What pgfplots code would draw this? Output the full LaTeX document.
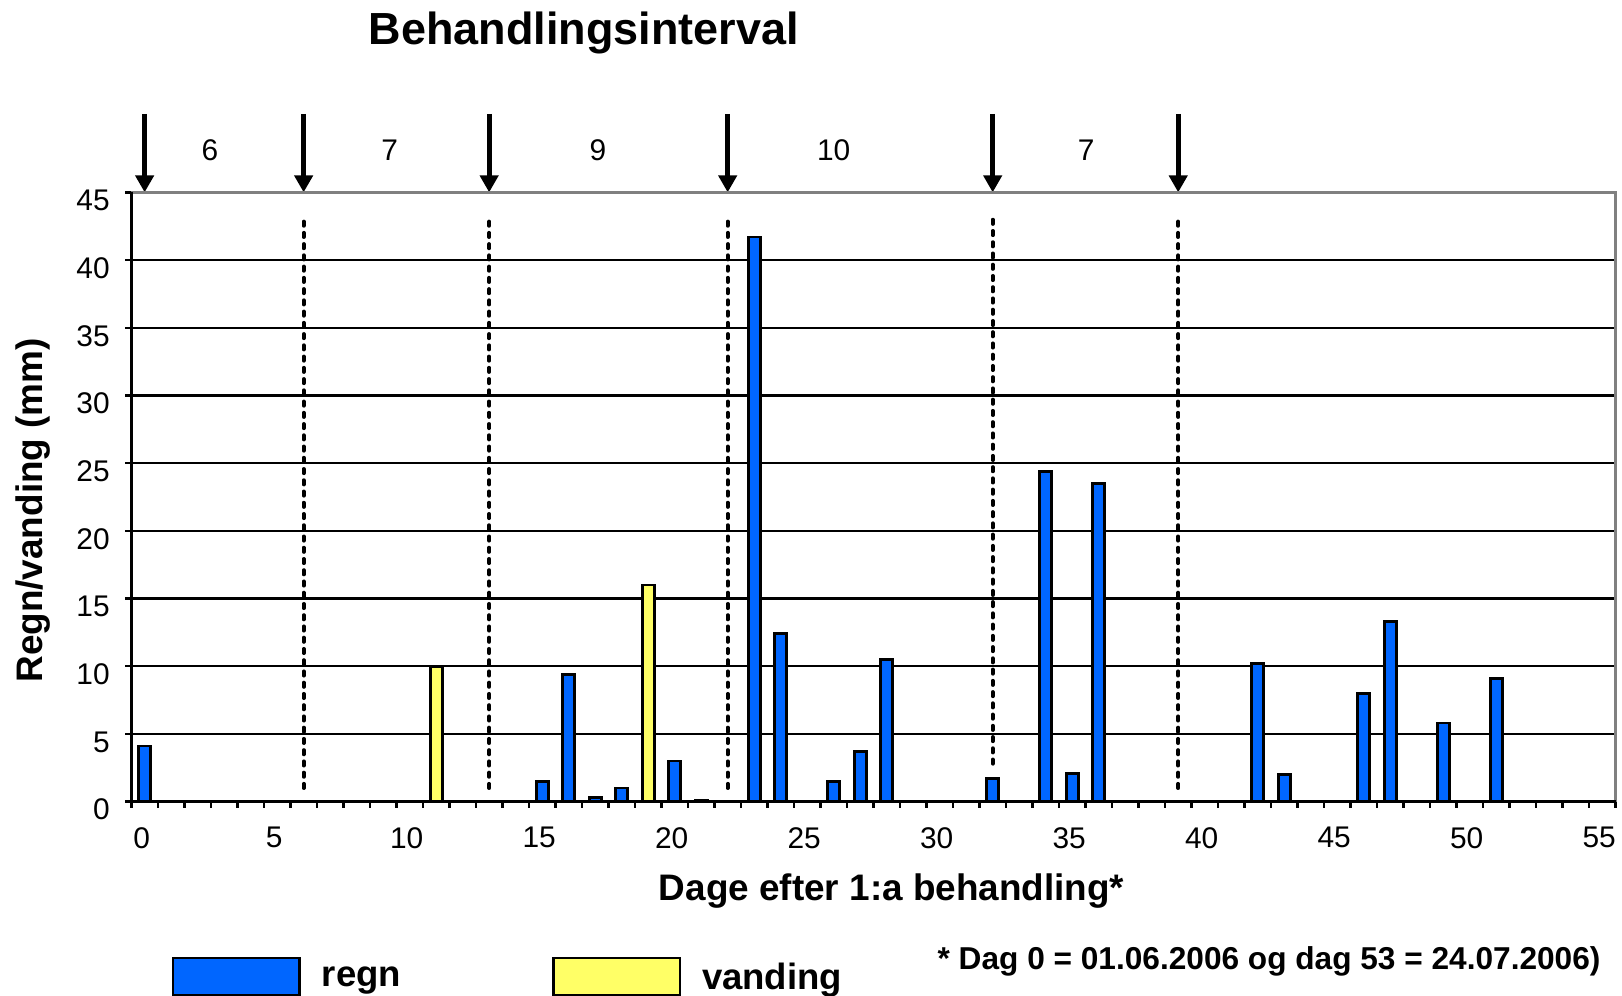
\documentclass[border=0pt]{standalone}
\usepackage{fontspec}
\setmainfont{Liberation Sans}
\usepackage{pgfplots}
\pgfplotsset{compat=1.18}
\usetikzlibrary{arrows.meta}
\definecolor{regnc}{RGB}{0,102,255}
\definecolor{vandc}{RGB}{255,255,102}
\definecolor{bordergray}{RGB}{128,128,128}
\pgfplotsset{legbox/.style={legend image code/.code={\draw[##1, line width=0.7pt] (0mm,-1.65mm) rectangle (12.65mm,2.11mm);}}}
\begin{document}
\begin{tikzpicture}
\begin{axis}[
  at={(0,0)}, anchor=south west,
  scale only axis, width=148.43mm, height=60.93mm,
  xmin=-0.5, xmax=55.5, ymin=0, ymax=45,
  clip=false,
  axis line style={draw=none},
  xtick={0,5,...,55},
  minor xtick={-0.5,0.5,...,55.5},
  ytick={0,5,...,40},
  extra y ticks={45},
  extra y tick style={grid=none},
  ymajorgrids,
  major grid style={black, line width=0.65pt},
  tick align=outside,
  xtick pos=bottom, ytick pos=left,
  major tick length=0.6mm, minor tick length=0.6mm,
  major x tick style={draw=none},
  minor x tick style={black, line width=0.7pt},
  major y tick style={black, line width=0.7pt},
  tick label style={font=\fontsize{8.5}{10}\selectfont},
  /pgf/number format/assume math mode=true,
  xticklabel style={anchor=north, inner sep=0pt, xshift=-0.3mm, yshift=-1.9mm},
  yticklabel style={anchor=east, inner sep=0pt, xshift=-1.5mm, yshift=-0.8mm},
  legend style={at={(axis description cs:0.02735,-0.2544)}, anchor=north west, draw=none, fill=none,
    inner sep=0pt, outer sep=0pt, legend columns=2,
    font=\fontsize{10.4}{12}\selectfont\bfseries, nodes={inner sep=0pt},
    /tikz/every odd column/.append style={column sep=2.1mm},
    /tikz/every even column/.append style={column sep=15.1mm}},
  legend cell align=left,
]
% treatment boundaries (dashed)
\pgfplotsinvokeforeach{6,13,22,39}{
  \addplot[forget plot, black, line width=1.1pt, line cap=round, dash pattern=on 1.2pt off 2pt] coordinates {(#1,1) (#1,43.2)};
}
\addplot[forget plot, black, line width=1.1pt, line cap=round, dash pattern=on 1.2pt off 2pt] coordinates {(32,2.8) (32,43.2)};
% treatment arrows
\pgfplotsinvokeforeach{0,6,13,22,32,39}{
  \addplot[forget plot, black, line width=1.4pt, -{Triangle[width=1.8mm,length=1.7mm]}] coordinates {(#1,50.8) (#1,45)};
}
\addplot[ybar, bar width=0.45, bar shift=0pt, fill=regnc, draw=black, line width=0.8pt, legbox] coordinates {
 (0,4.1) (15,1.5) (16,9.4) (17,0.3) (18,1.0) (20,3.0) (21,0.1) (23,41.7) (24,12.4)
 (26,1.5) (27,3.7) (28,10.5) (32,1.7) (34,24.4) (35,2.1) (36,23.5) (42,10.2) (43,2.0)
 (46,8.0) (47,13.3) (49,5.8) (51,9.1)};
\addlegendentry{regn}
\addplot[ybar, bar width=0.45, bar shift=0pt, fill=vandc, draw=black, line width=0.8pt, legbox] coordinates {
 (11,10.0) (19,16.0)};
\addlegendentry{vanding}
% interval lengths
\node[font=\fontsize{8.5}{10}\selectfont] at (axis cs:2.46,48.13) {6};
\node[font=\fontsize{8.5}{10}\selectfont] at (axis cs:9.25,48.13) {7};
\node[font=\fontsize{8.5}{10}\selectfont] at (axis cs:17.1,48.13) {9};
\node[font=\fontsize{8.5}{10}\selectfont] at (axis cs:26.0,48.13) {10};
\node[font=\fontsize{8.5}{10}\selectfont] at (axis cs:35.53,48.13) {7};
% frame
\draw[bordergray, line width=0.9pt] (rel axis cs:0,1) -- (rel axis cs:1,1) -- (rel axis cs:1,0);
\draw[black, line width=0.8pt] (rel axis cs:0,1) -- (rel axis cs:0,0) -- (rel axis cs:1,0);
\end{axis}
\node[font=\fontsize{12.8}{15}\selectfont\bfseries, anchor=base, inner sep=0pt] at (45.26mm,75.70mm) {Behandlingsinterval};
\node[font=\fontsize{10.5}{12}\selectfont\bfseries, anchor=base, inner sep=0pt] at (76.03mm,-9.93mm) {Dage efter 1:a behandling*};
\node[font=\fontsize{10.5}{12}\selectfont\bfseries, rotate=90, anchor=base, inner sep=0pt] at (-8.89mm,29.12mm) {Regn/vanding (mm)};
\node[font=\fontsize{9}{11}\selectfont\bfseries, anchor=base east, inner sep=0pt] at (147.0mm,-16.83mm) {* Dag 0 = 01.06.2006 og dag 53 = 24.07.2006)};
\pgfresetboundingbox
\path[use as bounding box] (-13.14mm,-19.43mm) rectangle (149.08mm,80.17mm);
\end{tikzpicture}
\end{document}
